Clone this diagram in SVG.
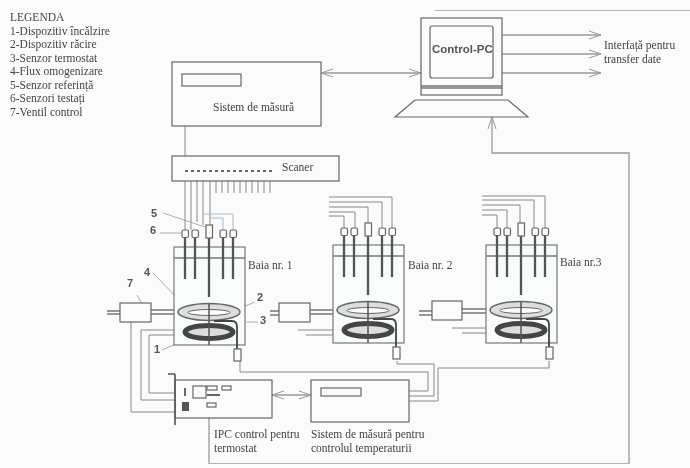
<svg xmlns="http://www.w3.org/2000/svg" xmlns:xlink="http://www.w3.org/1999/xlink" width="690" height="468" viewBox="0 0 690 468">
<style>
text{font-family:"Liberation Serif","Times New Roman",serif;font-size:11.500px;fill:#444}
.n{font-family:"Liberation Sans",Arial,sans-serif;font-size:11px;font-weight:bold;fill:#555}
.pc{font-family:"Liberation Sans",Arial,sans-serif;font-size:11.500px;font-weight:bold;fill:#555}
.b{fill:#fbfbfb;stroke:#666;stroke-width:1.2}
.t{fill:none;stroke:#555;stroke-width:1.6}
.w{fill:none;stroke:#888;stroke-width:1}
.l{fill:none;stroke:#9a9a9a;stroke-width:1.300}
.bl{fill:none;stroke:#a9bccb;stroke-width:1}
.r{fill:none;stroke:#555;stroke-width:2.300}
.p{fill:none;stroke:#777;stroke-width:1.3}
</style>
<defs>
<filter id="s" x="0" y="0" width="1" height="1" filterUnits="objectBoundingBox"><feGaussianBlur stdDeviation="0.6"/></filter>
<marker id="o" viewBox="0 0 14 10" refX="13" refY="5" markerWidth="14" markerHeight="10" markerUnits="userSpaceOnUse" orient="auto-start-reverse"><path d="M1 1 L13 5 L1 9" fill="none" stroke="#999" stroke-width="1"/></marker>
<marker id="a" viewBox="0 0 4 4" refX="2" refY="2" markerWidth="4" markerHeight="4" markerUnits="userSpaceOnUse" orient="auto"><path d="M0 0 L4 2 L0 4Z" fill="#777"/></marker>
<g id="bath">
<rect x="0" y="0" width="71" height="98" fill="#fafbfb" stroke="#777" stroke-width="1.2"/>
<path d="M0 11H71" class="p"/>
<path d="M11 -10V32M21 -10V32M49 -10V32M59 -10V32M35 -10V50" class="r"/>
<g class="b">
<rect x="8" y="-17" width="6.500" height="7.500" rx="1.500"/><rect x="18" y="-17" width="6.500" height="7.500" rx="1.500"/><rect x="32" y="-22" width="6.500" height="13"/><rect x="46" y="-17" width="6.500" height="7.500" rx="1.500"/><rect x="56" y="-17" width="6.500" height="7.500" rx="1.500"/>
</g>
<ellipse cx="35" cy="65" rx="31" ry="8.500" fill="#ddd" stroke="#666" stroke-width="1.500"/>
<ellipse cx="35" cy="65.500" rx="21" ry="3" fill="#fbfbfb" stroke="#666" stroke-width="1"/>
<ellipse cx="35" cy="85" rx="24" ry="6.500" fill="#ddd" stroke="#444" stroke-width="5"/>
<path d="M35 57V98" stroke="#555" stroke-width="1.500"/>
<path d="M40 74H58Q63 74 63 80V102" fill="none" stroke="#444" stroke-width="1.800"/>
<rect x="60" y="102" width="7" height="12" class="b"/>
</g>
</defs>
<rect width="690" height="468" fill="#fbfbfb"/>
<g filter="url(#s)">
<g id="legend">
<text x="10" y="21">LEGENDA</text><text x="10" y="35">1-Dispozitiv încălzire</text><text x="10" y="48">2-Dispozitiv răcire</text><text x="10" y="62">3-Senzor termostat</text><text x="10" y="75">4-Flux omogenizare</text><text x="10" y="89">5-Senzor referință</text><text x="10" y="102">6-Senzori testați</text><text x="10" y="116">7-Ventil control</text>
</g>
<g id="connectors">
<path d="M435 10H690" class="l"/>
<path d="M321 73H421" class="l" marker-start="url(#o)" marker-end="url(#o)"/>
<path d="M502 35H601" class="l" marker-end="url(#o)"/>
<path d="M502 54H601" class="l" marker-end="url(#o)"/>
<path d="M502 73H601" class="l" marker-end="url(#o)"/>
<path d="M209 418V464H629V153H492V117" class="l" marker-end="url(#o)"/>
<path d="M185 156V112" class="w" marker-end="url(#a)"/>
<path d="M272 395H311" class="l" marker-start="url(#o)" marker-end="url(#o)"/>
<path d="M185 173V230M191 173V230M197 173V222M203 173V225M210 173V225M216 173V193M222 173V193M228 173V193M234 173V193M240 173V193M246 173V193M252 173V193M258 173V193M264 173V193M270 173V193" class="w"/>
<path d="M203 214H233V230M210 218H223V230" class="bl"/>
<path d="M329 197H392V231M329 202H382V231M329 207H368V223M329 212H355V231M329 216H344V231" class="w"/>
<path d="M482 196H545V229M482 200H534V229M482 205H520V223M482 210H507V229M482 215H497V229" class="w"/>
<path d="M107 311H120M107 314H120M151 310H178M151 314H178M270 311H279M270 315H279M310 310H338M310 314H338M419 311H432M419 315H432M462 309H490M462 313H490" class="p"/>
<path d="M298 330H340M306 335H340M452 328H490M462 333H490" class="w"/>
<path d="M131 322V412H175M141 330V400H175M177 330H141M149 335V393H175M177 335H149" class="w"/>
<path d="M240 361V372H428V391H409M397 361V364H434V396H409M549 361V368H438V401H409" class="w"/>
<path d="M163 213L205 227M160 233H181M153 273L180 301M137 295L142 304M255 302L238 309M258 322L246 322M162 350L176 344" stroke="#999" stroke-width="0.800" fill="none"/>
</g>
<g id="sistem-masura"><rect x="172" y="62" width="149" height="64" class="b"/><rect x="182" y="74" width="59" height="12" class="b"/><text x="213" y="111">Sistem de măsură</text></g>
<g id="scaner"><rect x="172" y="156" width="167" height="25" class="b"/><path d="M185 171H273" stroke="#666" stroke-width="2" stroke-dasharray="3 3"/><text x="282" y="171">Scaner</text></g>
<g id="control-pc">
<rect x="421" y="18" width="81" height="77" class="b" stroke-width="1.500"/><rect x="430" y="26" width="63" height="52" rx="2" class="b"/><path d="M421 86H502M421 88H502" class="p"/>
<path d="M415 100H508L528 117H395Z" class="b"/>
<text class="pc" x="432" y="53">Control-PC</text>
</g>
<g id="interfata"><text x="604" y="49">Interfață pentru</text><text x="604" y="63">transfer date</text></g>
<g id="baia-1"><use xlink:href="#bath" href="#bath" x="174" y="247"/><text x="248" y="269">Baia nr. 1</text></g>
<g id="baia-2"><use xlink:href="#bath" href="#bath" x="333" y="245"/><text x="408" y="269">Baia nr. 2</text></g>
<g id="baia-3"><use xlink:href="#bath" href="#bath" x="486" y="245"/><text x="560" y="266">Baia nr.3</text></g>
<g id="ventil-1"><rect x="120" y="303" width="31" height="19" class="b"/></g>
<g id="ventil-2"><rect x="279" y="303" width="31" height="19" class="b"/></g>
<g id="ventil-3"><rect x="432" y="301" width="30" height="19" class="b"/></g>
<g id="ipc-control">
<rect x="175" y="380" width="97" height="38" class="b"/><path d="M175 374V425M168 374H175" class="t"/>
<rect x="193" y="386" width="13" height="12" class="b"/><rect x="207" y="386" width="10" height="4" class="b"/><rect x="222" y="386" width="9" height="4" class="b"/><rect x="207" y="403" width="9" height="4" class="b"/>
<path d="M207 395H220M185 388V396" stroke="#666" stroke-width="2" fill="none"/>
<rect x="182" y="402" width="7" height="9" fill="#555"/>
<text x="214" y="438">IPC control pentru</text><text x="214" y="452">termostat</text>
</g>
<g id="sistem-temperatura"><rect x="311" y="380" width="98" height="42" class="b"/><rect x="321" y="388" width="40" height="8" class="b"/><text x="311" y="438">Sistem de măsură pentru</text><text x="311" y="452">controlul temperaturii</text></g>
<g id="numbers"><text class="n" x="151" y="217">5</text><text class="n" x="150" y="234">6</text><text class="n" x="144" y="276">4</text><text class="n" x="127" y="287">7</text><text class="n" x="257" y="301">2</text><text class="n" x="260" y="324">3</text><text class="n" x="154" y="353">1</text></g>
</g>
</svg>
